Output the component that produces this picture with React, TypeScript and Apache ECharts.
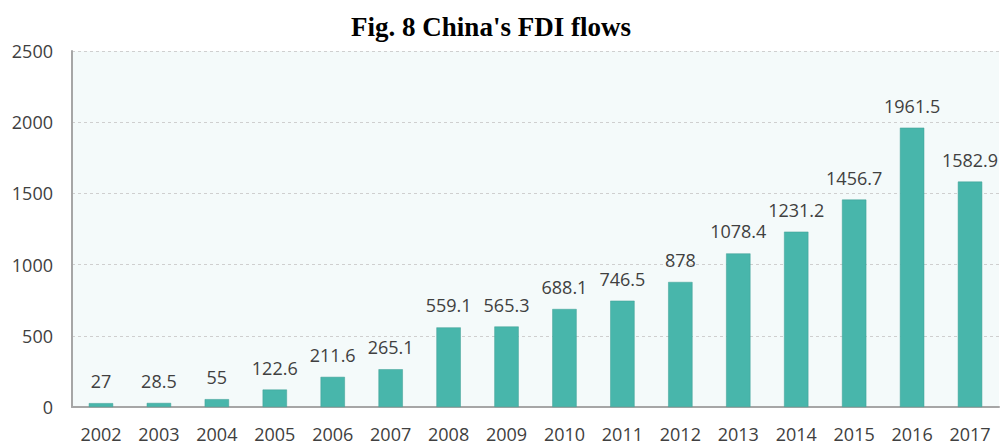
import React, { useEffect, useRef } from "react";
import * as echarts from "echarts";

const years = ["2002", "2003", "2004", "2005", "2006", "2007", "2008", "2009", "2010", "2011", "2012", "2013", "2014", "2015", "2016", "2017"];
const fdiFlows = [27, 28.5, 55, 122.6, 211.6, 265.1, 559.1, 565.3, 688.1, 746.5, 878, 1078.4, 1231.2, 1456.7, 1961.5, 1582.9];
const yTicks = { min: 0, max: 2500, interval: 500 };
const titleText = "Fig. 8 China's FDI flows";

export default function App() {
  const ref = useRef<HTMLDivElement>(null);
  useEffect(() => {
    document.body.style.margin = "0";
    const chart = echarts.init(ref.current!, null, { renderer: "svg" });
    chart.setOption({
      animation: false,
      title: {
        text: titleText,
        left: 486,
        textAlign: "center",
        top: 8,
        textStyle: { fontFamily: "Liberation Serif", fontWeight: "bold", fontSize: 27, color: "#000" },
      },
      grid: {
        left: 72,
        right: 1,
        top: 51,
        bottom: 39,
        show: true,
        backgroundColor: "#f4fafa",
        borderWidth: 0,
      },
      xAxis: {
        type: "category",
        data: years,
        axisLine: { lineStyle: { color: "#a6a6a6", width: 2 } },
        axisTick: { show: false },
        axisLabel: { color: "#404040", fontSize: 18, fontFamily: "Open Sans", margin: 18 },
      },
      yAxis: {
        type: "value",
        min: yTicks.min,
        max: yTicks.max,
        interval: yTicks.interval,
        axisLine: { show: true, lineStyle: { color: "#a6a6a6", width: 2 } },
        axisTick: { show: false },
        axisLabel: { color: "#404040", fontSize: 18, fontFamily: "Open Sans", margin: 19, formatter: (v: number) => String(v) },
        splitLine: { lineStyle: { color: "#cfcfcf", type: [3, 3], width: 1 } },
      },
      series: [
        {
          type: "bar",
          data: fdiFlows,
          barWidth: "42%",
          itemStyle: { color: "#48b6ab", borderColor: "#3f9f95", borderWidth: 0.5 },
          label: {
            show: true,
            position: "top",
            distance: 13,
            color: "#404040",
            fontSize: 18,
            fontFamily: "Open Sans",
          },
        },
      ],
    });
    return () => chart.dispose();
  }, []);
  return <div ref={ref} style={{ width: 1000, height: 446 }} />;
}
